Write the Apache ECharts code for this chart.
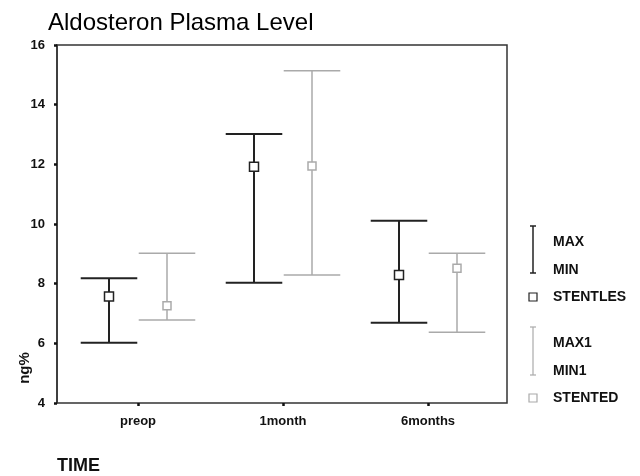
<!DOCTYPE html>
<html>
<head>
<meta charset="utf-8">
<script src="https://cdn.jsdelivr.net/npm/echarts@6/dist/echarts.min.js"></script>
<style>
  html, body { margin: 0; padding: 0; background: #fff; }
  #chart { width: 640px; height: 476px; }
</style>
</head>
<body>
<div id="chart"></div>
<script>
// Aldosterone plasma level (ng%) over time, min / max range and mean per group
const categories = ['preop', '1month', '6months'];

const stentlesMax  = [8.18, 13.02, 10.11];
const stentlesMin  = [6.02, 8.03, 6.69];
const stentlesMean = [7.57, 11.92, 8.29];

const stentedMax  = [9.02, 15.14, 9.02];
const stentedMin  = [6.78, 8.29, 6.37];
const stentedMean = [7.26, 11.94, 8.52];

const yMin = 4, yMax = 16, yStep = 2;

const FONT = '"Liberation Sans", Arial, sans-serif';
const DARK = '#222';
const LIGHT = '#aaa';

function rows(maxArr, minArr, meanArr) {
  return categories.map((c, i) => [i, maxArr[i], minArr[i], meanArr[i]]);
}

// Error bar with end caps and a hollow square at the mean
function makeRender(side, color, lineW, box) {
  return function (params, api) {
    const idx = api.value(0);
    const hi = api.coord([idx, api.value(1)]);
    const lo = api.coord([idx, api.value(2)]);
    const mid = api.coord([idx, api.value(3)]);
    const band = api.size([1, 0])[0];
    const x = hi[0] + side * band * 0.2;
    const cap = band * 0.195;
    const st = { stroke: color, lineWidth: lineW };
    return {
      type: 'group',
      children: [
        { type: 'line', shape: { x1: x, y1: hi[1], x2: x, y2: lo[1] }, style: st },
        { type: 'line', shape: { x1: x - cap, y1: hi[1], x2: x + cap, y2: hi[1] }, style: st },
        { type: 'line', shape: { x1: x - cap, y1: lo[1], x2: x + cap, y2: lo[1] }, style: st },
        { type: 'rect', shape: { x: x - box / 2, y: mid[1] - box / 2, width: box, height: box },
          style: { fill: '#fff', stroke: color, lineWidth: 1.5 } }
      ]
    };
  };
}

function legendBeam(x, y1, y2, color, w) {
  return [
    { type: 'line', shape: { x1: x, y1: y1, x2: x, y2: y2 }, style: { stroke: color, lineWidth: w } },
    { type: 'line', shape: { x1: x - 3, y1: y1, x2: x + 3, y2: y1 }, style: { stroke: color, lineWidth: w } },
    { type: 'line', shape: { x1: x - 3, y1: y2, x2: x + 3, y2: y2 }, style: { stroke: color, lineWidth: w } }
  ];
}
function legendText(x, y, s) {
  return { type: 'text', x: x, y: y, style: { text: s, font: 'bold 14px ' + FONT, fill: '#111', textVerticalAlign: 'middle' } };
}
function legendBox(x, y, color) {
  return { type: 'rect', shape: { x: x - 4, y: y - 4, width: 8, height: 8 }, style: { fill: '#fff', stroke: color, lineWidth: 1.2 } };
}

const chart = echarts.init(document.getElementById('chart'), null, { renderer: 'canvas' });

chart.setOption({
  animation: false,
  backgroundColor: '#fff',
  title: {
    text: 'Aldosteron Plasma Level',
    left: 43, top: 6,
    textStyle: { fontFamily: FONT, fontSize: 24, fontWeight: 'normal', color: '#000' }
  },
  grid: [
    { left: 57, top: 45, width: 450, height: 358, show: true, borderColor: '#333', borderWidth: 1.5, backgroundColor: 'transparent' },
    { left: 65.5, top: 45, width: 435, height: 358 }
  ],
  xAxis: [
    { gridIndex: 0, type: 'value', min: 0, max: 1, show: false },
    {
      gridIndex: 1, type: 'category', data: categories,
      axisLine: { show: false },
      axisTick: { show: true, alignWithLabel: true, length: 3, lineStyle: { color: '#111', width: 2.5 } },
      axisLabel: { color: '#111', fontFamily: FONT, fontSize: 13, fontWeight: 'bold', margin: 12 },
      splitLine: { show: false }
    }
  ],
  yAxis: [
    {
      gridIndex: 0, type: 'value', min: yMin, max: yMax, interval: yStep,
      axisLine: { show: true, lineStyle: { color: '#333', width: 1.5 } },
      axisTick: { show: true, length: 3, lineStyle: { color: '#111', width: 2.5 } },
      axisLabel: { color: '#111', fontFamily: FONT, fontSize: 13, fontWeight: 'bold', margin: 12 },
      splitLine: { show: false }
    },
    { gridIndex: 1, type: 'value', min: yMin, max: yMax, show: false }
  ],
  series: [
    {
      name: 'STENTLES', type: 'custom', xAxisIndex: 1, yAxisIndex: 1,
      data: rows(stentlesMax, stentlesMin, stentlesMean),
      renderItem: makeRender(-1, DARK, 2, 9)
    },
    {
      name: 'STENTED', type: 'custom', xAxisIndex: 1, yAxisIndex: 1,
      data: rows(stentedMax, stentedMin, stentedMean),
      renderItem: makeRender(1, LIGHT, 1.5, 8)
    }
  ],
  graphic: [
    {
      type: 'text', x: 25, y: 368, rotation: Math.PI / 2,
      style: { text: 'ng%', font: 'bold 15px ' + FONT, fill: '#111', textAlign: 'center', textVerticalAlign: 'middle' }
    },
    {
      type: 'text', x: 57, y: 466,
      style: { text: 'TIME', font: 'bold 18px ' + FONT, fill: '#111', textVerticalAlign: 'middle' }
    },
    { type: 'group', children: [].concat(
      legendBeam(533, 226, 273, DARK, 1.5),
      [legendText(553, 242, 'MAX'), legendText(553, 270, 'MIN'),
       legendBox(533, 297, DARK), legendText(553, 297, 'STENTLES')],
      legendBeam(533, 327, 375, LIGHT, 1.2),
      [legendText(553, 343, 'MAX1'), legendText(553, 371, 'MIN1'),
       legendBox(533, 398, LIGHT), legendText(553, 398, 'STENTED')]
    ) }
  ]
});
</script>
</body>
</html>
